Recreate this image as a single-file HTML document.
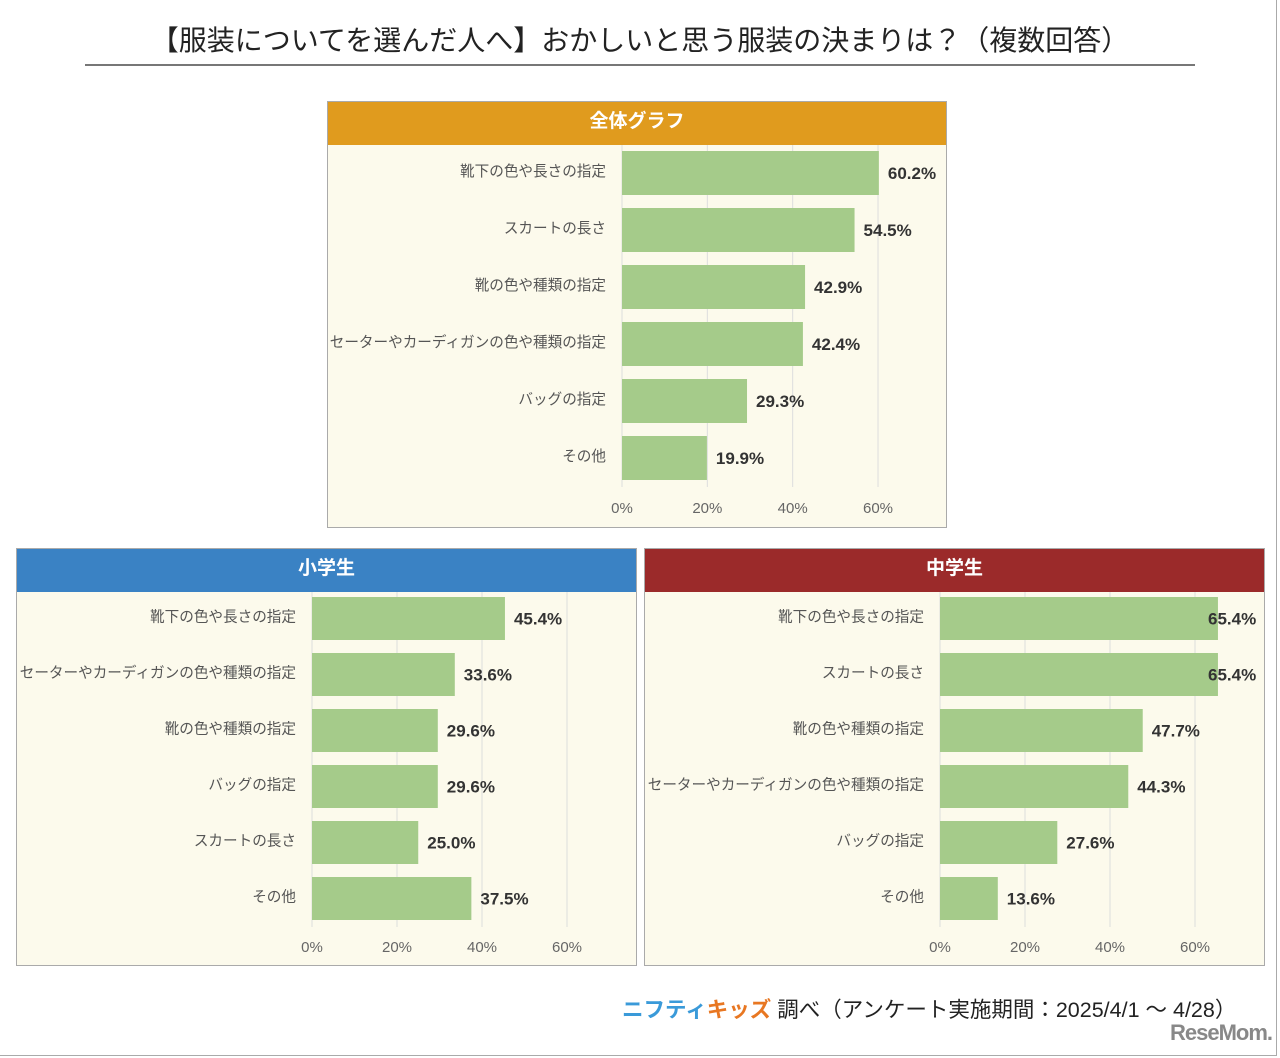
<!DOCTYPE html>
<html><head><meta charset="utf-8">
<style>
body{margin:0;width:1280px;height:1058px;background:#fff;position:relative;overflow:hidden;font-family:"Liberation Sans","Noto Sans CJK JP",sans-serif;}
.frame{position:absolute;left:0;top:0;width:1276px;height:1055px;border-right:1px solid #aaa;border-bottom:1px solid #aaa;}
.title{position:absolute;left:0;width:1280px;top:19px;text-align:center;font-size:28px;color:#222;}
.rule{position:absolute;left:85px;top:64px;width:1110px;height:2px;background:#777;}
.panel{position:absolute;background:#fcfaec;border:1px solid #aaa;box-sizing:border-box;}
.hdr{position:absolute;left:0;top:0;right:0;height:43px;color:#fff;font-weight:bold;font-size:19px;text-align:center;line-height:40px;}
.foot{position:absolute;left:622px;top:993px;font-size:21.5px;color:#222;white-space:nowrap;}
.logo{font-weight:bold;}
.rm{position:absolute;left:1170px;top:1020px;font-size:22px;font-weight:bold;color:#888;letter-spacing:-1px;}
</style></head><body>
<div class="frame"></div>
<div class="title">【服装についてを選んだ人へ】おかしいと思う服装の決まりは？（複数回答）</div>
<div class="rule"></div>
<div id="p0" class="panel" style="left:327px;top:101px;width:620px;height:427px"><div class="hdr" style="background:#e09b1e">全体グラフ</div></div>
<div id="p1" class="panel" style="left:16px;top:548px;width:621px;height:418px"><div class="hdr" style="background:#3a82c4">小学生</div></div>
<div id="p2" class="panel" style="left:644px;top:548px;width:621px;height:418px"><div class="hdr" style="background:#9b2a2a">中学生</div></div>
<div class="foot"><span class="logo" style="color:#3a9ad9">ニフティ</span><span class="logo" style="color:#e87722">キッズ</span> 調べ（アンケート実施期間：2025/4/1 ～ 4/28）</div>
<div class="rm">ReseMom.</div>
<script>
const cats0=["靴下の色や長さの指定","スカートの長さ","靴の色や種類の指定","セーターやカーディガンの色や種類の指定","バッグの指定","その他"];
const vals0=[60.2,54.5,42.9,42.4,29.3,19.9];
const cats1=["靴下の色や長さの指定","セーターやカーディガンの色や種類の指定","靴の色や種類の指定","バッグの指定","スカートの長さ","その他"];
const vals1=[45.4,33.6,29.6,29.6,25.0,37.5];
const cats2=["靴下の色や長さの指定","スカートの長さ","靴の色や種類の指定","セーターやカーディガンの色や種類の指定","バッグの指定","その他"];
const vals2=[65.4,65.4,47.7,44.3,27.6,13.6];
const ticks=[0,20,40,60];
const NS="http://www.w3.org/2000/svg";
function draw(id,cats,vals,cfg){
  const p=document.getElementById(id);
  const W=p.offsetWidth,H=p.offsetHeight;
  const svg=document.createElementNS(NS,"svg");
  svg.setAttribute("width",W);svg.setAttribute("height",H);
  svg.style.position="absolute";svg.style.left="-1px";svg.style.top="-1px";
  
  
  p.appendChild(svg);
  const x=v=>cfg.x0+v*cfg.k;
  const plotTop=44,plotBot=cfg.y0+cats.length*cfg.pitch-6;
  ticks.forEach(t=>{
    const l=document.createElementNS(NS,"line");
    l.setAttribute("x1",x(t));l.setAttribute("x2",x(t));l.setAttribute("y1",plotTop);l.setAttribute("y2",plotBot);
    l.setAttribute("stroke","#ddd");
    
    
    svg.appendChild(l);
    const tx=document.createElementNS(NS,"text");
    tx.setAttribute("x",x(t));tx.setAttribute("y",cfg.axisY);tx.setAttribute("text-anchor","middle");
    tx.setAttribute("font-size","15");tx.setAttribute("fill","#666");tx.textContent=t+"%";
    
    
    svg.appendChild(tx);
  });
  cats.forEach((c,i)=>{
    const y=cfg.y0+i*cfg.pitch;
    const r=document.createElementNS(NS,"rect");
    r.setAttribute("x",x(0));r.setAttribute("y",y);r.setAttribute("width",x(vals[i])-x(0));r.setAttribute("height",cfg.bh);
    r.setAttribute("fill","#a5cb8a");
    
    
    svg.appendChild(r);
    const lb=document.createElementNS(NS,"text");
    lb.setAttribute("x",x(0)-16);lb.setAttribute("y",y+cfg.bh/2+3);lb.setAttribute("text-anchor","end");
    lb.setAttribute("font-size","14.6");lb.setAttribute("fill","#555");lb.textContent=c;
    
    
    svg.appendChild(lb);
    const vl=document.createElementNS(NS,"text");
    const vx=Math.min(x(vals[i])+9,W-57);
    vl.setAttribute("x",vx);vl.setAttribute("y",y+cfg.bh/2+6);
    vl.setAttribute("font-size","17");vl.setAttribute("font-weight","bold");vl.setAttribute("fill","#333");
    vl.textContent=vals[i].toFixed(1)+"%";
    
    
    svg.appendChild(vl);
  });
}
draw("p0",cats0,vals0,{x0:295,k:4.267,y0:50,pitch:57,bh:44,axisY:412});
draw("p1",cats1,vals1,{x0:296,k:4.25,y0:49,pitch:56,bh:43,axisY:404});
draw("p2",cats2,vals2,{x0:296,k:4.25,y0:49,pitch:56,bh:43,axisY:404});
</script>
</body></html>
